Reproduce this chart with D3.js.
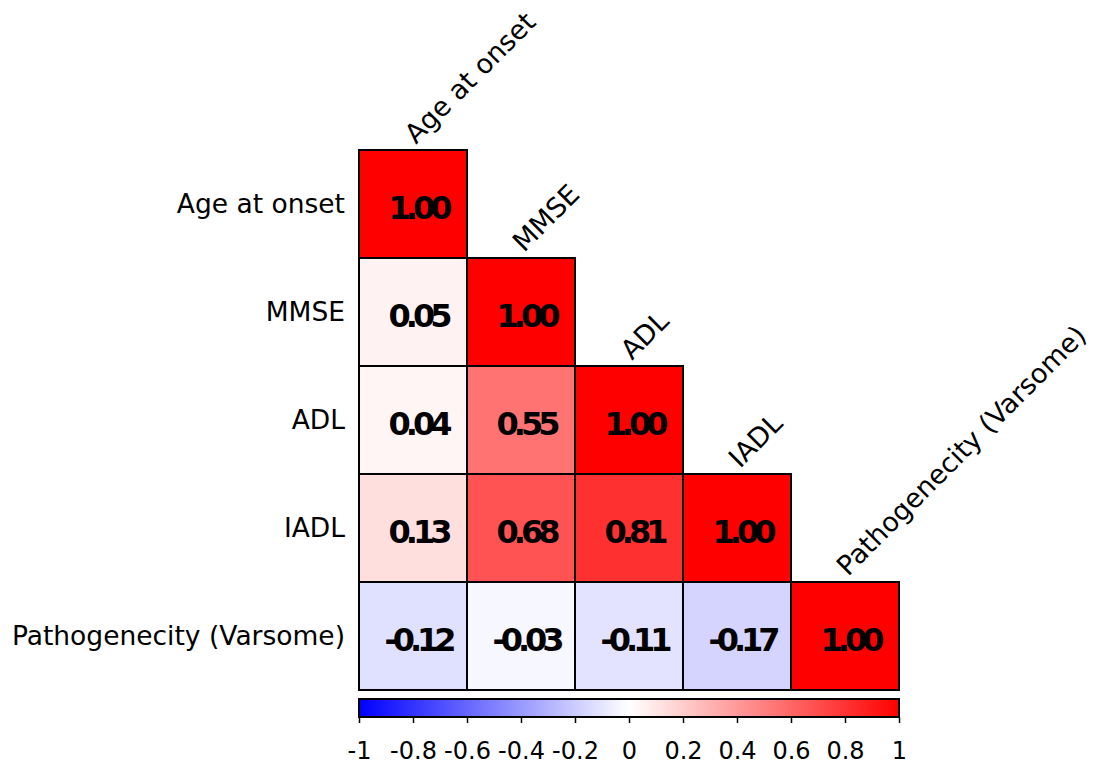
<!DOCTYPE html>
<html>
<head>
<meta charset="utf-8">
<script src="https://cdn.jsdelivr.net/npm/d3@7"></script>
<style>
  html, body { margin: 0; padding: 0; background: #fff; }
  svg { display: block; font-family: "DejaVu Sans", sans-serif; }
</style>
</head>
<body>
<svg id="chart" width="1097" height="764"></svg>
<script>
// Variables in the correlation matrix (rows top-to-bottom, columns left-to-right)
const variables = ["Age at onset", "MMSE", "ADL", "IADL", "Pathogenecity (Varsome)"];

// Lower-triangle correlation coefficients, one array per row
const row0 = [1.00];
const row1 = [0.05, 1.00];
const row2 = [0.04, 0.55, 1.00];
const row3 = [0.13, 0.68, 0.81, 1.00];
const row4 = [-0.12, -0.03, -0.11, -0.17, 1.00];
const rows = [row0, row1, row2, row3, row4];

// Colour bar ticks
const colorbarTicks = [-1, -0.8, -0.6, -0.4, -0.2, 0, 0.2, 0.4, 0.6, 0.8, 1];

const svg = d3.select("#chart");

const gridLeft = 359, gridTop = 150, gridSize = 540;
const x = d3.scaleBand().domain(variables).range([gridLeft, gridLeft + gridSize]);
const y = d3.scaleBand().domain(variables).range([gridTop, gridTop + gridSize]);

// Blue-white-red diverging scale
const color = d3.scaleLinear().domain([-1, 0, 1]).range(["#0000ff", "#ffffff", "#ff0000"]);

const cells = [];
rows.forEach((r, i) => r.forEach((v, j) => cells.push({ row: variables[i], col: variables[j], v })));

const g = svg.append("g");
g.selectAll("rect.cell")
  .data(cells)
  .join("rect")
  .attr("class", "cell")
  .attr("x", d => x(d.col))
  .attr("y", d => y(d.row))
  .attr("width", x.bandwidth())
  .attr("height", y.bandwidth())
  .attr("fill", d => color(d.v))
  .attr("stroke", "#000")
  .attr("stroke-width", 2);

// Coefficient labels, bold and tightly set
g.selectAll("text.val")
  .data(cells)
  .join("text")
  .attr("class", "val")
  .attr("x", d => x(d.col) + x.bandwidth() / 2 + 5)
  .attr("y", d => y(d.row) + y.bandwidth() / 2 + 14.5)
  .attr("text-anchor", "middle")
  .attr("font-weight", "bold")
  .attr("font-size", 32)
  .attr("letter-spacing", -5)
  .attr("fill", "#000")
  .text(d => d.v.toFixed(2));

// Row labels on the left
svg.append("g").selectAll("text")
  .data(variables)
  .join("text")
  .attr("x", gridLeft - 14)
  .attr("y", d => y(d) + y.bandwidth() / 2)
  .attr("dy", "0.35em")
  .attr("text-anchor", "end")
  .attr("font-size", 26.5)
  .text(d => d);

// Column labels above the diagonal, rotated
svg.append("g").selectAll("text")
  .data(variables)
  .join("text")
  .attr("transform", d => `translate(${x(d) + x.bandwidth() / 2 + 3},${y(d) - 5}) rotate(-45)`)
  .attr("text-anchor", "start")
  .attr("font-size", 27)
  .text(d => d);

// Colour bar
const cbTop = 699, cbH = 18;
const defs = svg.append("defs");
const grad = defs.append("linearGradient").attr("id", "cbgrad").attr("x1", "0%").attr("x2", "100%");
d3.range(0, 1.0001, 0.1).forEach(t => {
  grad.append("stop").attr("offset", `${t * 100}%`).attr("stop-color", color(-1 + 2 * t));
});
const cbScale = d3.scaleLinear().domain([-1, 1]).range([gridLeft, gridLeft + gridSize]);
svg.append("rect")
  .attr("x", gridLeft).attr("y", cbTop)
  .attr("width", gridSize).attr("height", cbH)
  .attr("fill", "url(#cbgrad)")
  .attr("stroke", "#000").attr("stroke-width", 2);

const axis = d3.axisBottom(cbScale)
  .tickValues(colorbarTicks)
  .tickSize(6)
  .tickPadding(19)
  .tickFormat(d => String(+d.toFixed(1)));
const axG = svg.append("g")
  .attr("transform", `translate(0,${cbTop + cbH})`)
  .call(axis);
axG.select(".domain").remove();
axG.selectAll(".tick line").attr("stroke", "#000").attr("stroke-width", 1.5);
axG.selectAll(".tick text")
  .attr("font-family", "DejaVu Sans, sans-serif")
  .attr("font-size", 24)
  .attr("fill", "#000");
</script>
</body>
</html>
